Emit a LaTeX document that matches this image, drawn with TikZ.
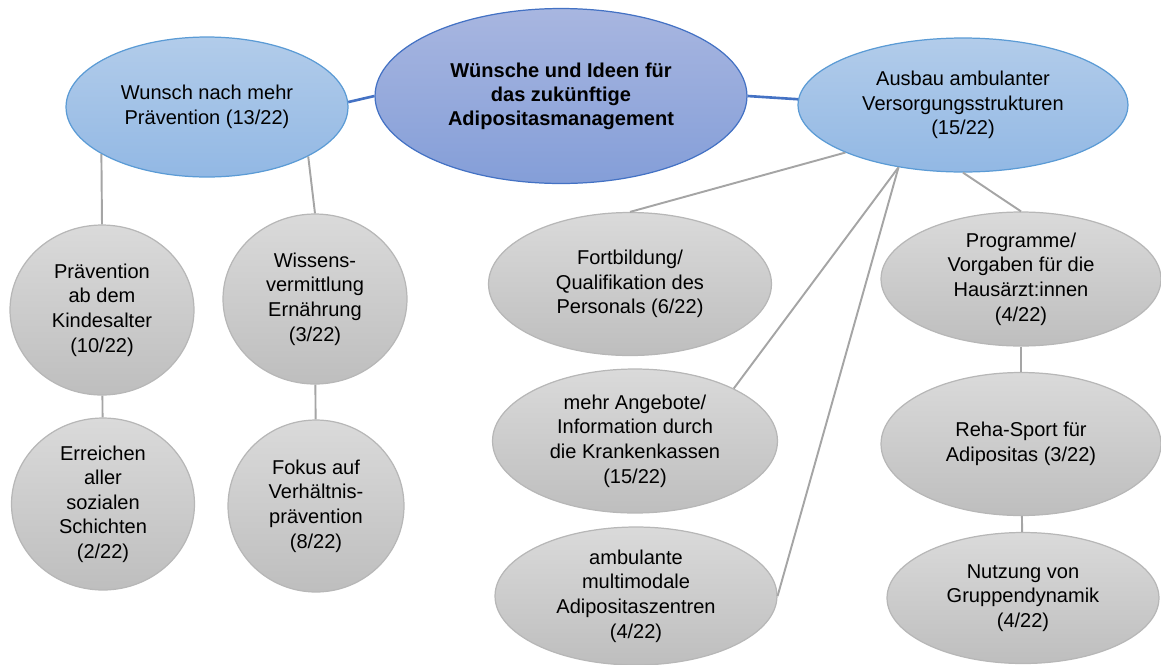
\documentclass[tikz,border=0pt]{standalone}
\usepackage{fontspec}
\setmainfont{Liberation Sans}
\usetikzlibrary{shapes.geometric}

\definecolor{zentrumtop}{RGB}{168,182,224}
\definecolor{zentrumbot}{RGB}{132,158,216}
\definecolor{blautop}{RGB}{178,204,234}
\definecolor{blaubot}{RGB}{146,184,228}
\definecolor{blaurand}{RGB}{91,155,213}
\definecolor{dunkelrand}{RGB}{68,114,196}
\definecolor{grautop}{RGB}{218,218,218}
\definecolor{graubot}{RGB}{190,190,190}
\definecolor{graurand}{RGB}{165,165,165}

\begin{document}
\begin{tikzpicture}[x=0.02cm,y=-0.02cm,font=\fontsize{11.4pt}{14pt}\selectfont,
    every node/.style={ellipse,inner sep=0pt,align=center,line width=0.7pt},
    haupt node/.style={top color=zentrumtop,bottom color=zentrumbot,draw=dunkelrand,font=\fontsize{11.4pt}{13.7pt}\selectfont\bfseries},
    blau node/.style={top color=blautop,bottom color=blaubot,draw=blaurand},
    grau node/.style={top color=grautop,bottom color=graubot,draw=graurand!80},
    blau link/.style={draw=dunkelrand,line width=1.5pt},
    grau link/.style={draw=graurand,line width=1.1pt}]
    \useasboundingbox (0,0) rectangle (1161,664);

    \node[haupt node,minimum width=7.44cm,minimum height=3.5cm] (zentrum) at (561,96) {Wünsche und Ideen für\\das zukünftige\\Adipositasmanagement};
    \node[blau node,minimum width=5.64cm,minimum height=2.8cm] (wunsch) at (207,107) {Wunsch nach mehr\\Prävention (13/22)};
    \node[blau node,minimum width=6.6cm,minimum height=2.68cm] (ausbau) at (963,105) {Ausbau ambulanter\\Versorgungsstrukturen\\(15/22)};

    \node[grau node,minimum width=3.68cm,minimum height=3.4cm] (kind) at (102,310) {Prävention\\ab dem\\Kindesalter\\(10/22)};
    \node[grau node,minimum width=3.68cm,minimum height=3.4cm] (wissen) at (315,299) {Wissens-\\vermittlung\\Ernährung\\(3/22)};
    \node[grau node,minimum width=3.66cm,minimum height=3.44cm] (schichten) at (103,504) {Erreichen\\aller\\sozialen\\Schichten\\(2/22)};
    \node[grau node,minimum width=3.52cm,minimum height=3.44cm] (fokus) at (316,506) {Fokus auf\\Verhältnis-\\prävention\\(8/22)};

    \node[grau node,minimum width=5.66cm,minimum height=2.86cm] (fortbildung) at (630,284) {Fortbildung/\\Qualifikation des\\Personals (6/22)};
    \node[grau node,minimum width=5.7cm,minimum height=2.88cm] (kassen) at (635,441) {mehr Angebote/\\Information durch\\die Krankenkassen\\(15/22)};
    \node[grau node,minimum width=5.64cm,minimum height=2.76cm] (zentren) at (636,596) {ambulante\\multimodale\\Adipositaszentren\\(4/22)};

    \node[grau node,minimum width=5.6cm,minimum height=2.68cm] (programme) at (1021,279) {Programme/\\Vorgaben für die\\Hausärzt:innen\\(4/22)};
    \node[grau node,minimum width=5.6cm,minimum height=2.86cm] (reha) at (1021,444) {Reha-Sport für\\Adipositas (3/22)};
    \node[grau node,minimum width=5.44cm,minimum height=2.62cm] (gruppe) at (1023,598) {Nutzung von\\Gruppendynamik\\(4/22)};

    \path[blau link]
        (wunsch.2) edge (zentrum.west)
        (zentrum.east) edge (ausbau.178)
        ;
    \path[grau link]
        (wunsch.204) edge (kind.north)
        (wunsch.334) edge (wissen.north)
        (kind) edge (schichten)
        (wissen) edge (fokus)
        (ausbau.202) edge (fortbildung.north)
        (ausbau.224) edge (kassen.28)
        (ausbau.224) edge (zentren.east)
        (ausbau.south) edge (programme.north)
        (programme) edge (reha)
        (reha) edge (gruppe)
        ;
\end{tikzpicture}
\end{document}
